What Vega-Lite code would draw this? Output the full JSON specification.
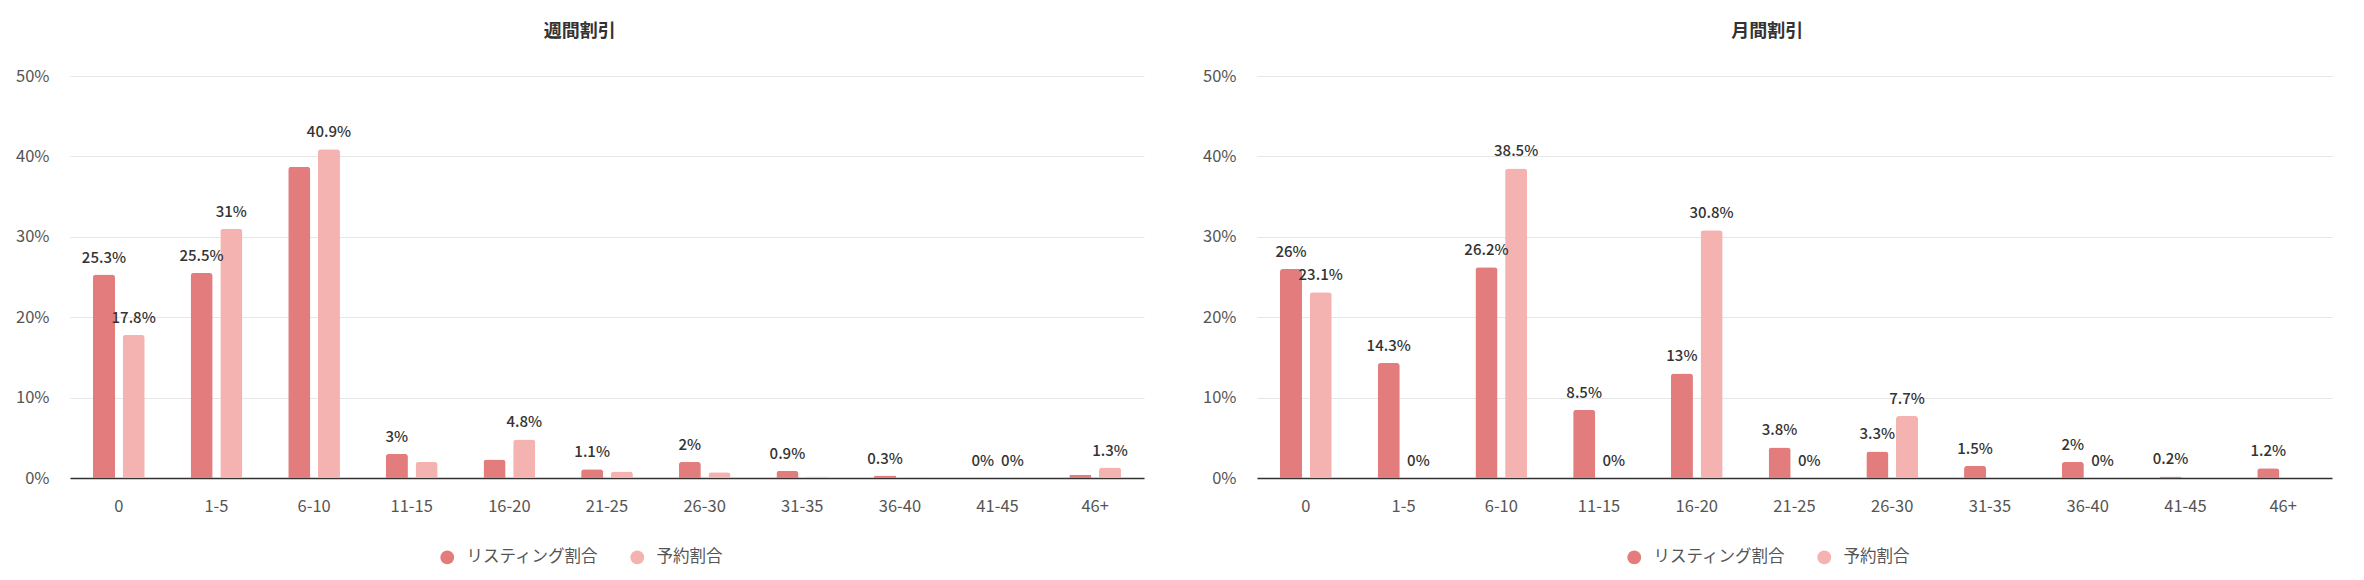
{
  "$schema": "https://vega.github.io/schema/vega-lite/v6.json",
  "background": "white",
  "padding": {"left": 15, "top": 23, "right": 29, "bottom": 0},
  "datasets": {
    "d": [
      {"chart": "週間割引", "bin": "0", "series": "リスティング割合", "value": 25.3},
      {"chart": "週間割引", "bin": "0", "series": "予約割合", "value": 17.8},
      {"chart": "週間割引", "bin": "1-5", "series": "リスティング割合", "value": 25.5},
      {"chart": "週間割引", "bin": "1-5", "series": "予約割合", "value": 31},
      {"chart": "週間割引", "bin": "6-10", "series": "リスティング割合", "value": 38.7},
      {"chart": "週間割引", "bin": "6-10", "series": "予約割合", "value": 40.9},
      {"chart": "週間割引", "bin": "11-15", "series": "リスティング割合", "value": 3},
      {"chart": "週間割引", "bin": "11-15", "series": "予約割合", "value": 2},
      {"chart": "週間割引", "bin": "16-20", "series": "リスティング割合", "value": 2.3},
      {"chart": "週間割引", "bin": "16-20", "series": "予約割合", "value": 4.8},
      {"chart": "週間割引", "bin": "21-25", "series": "リスティング割合", "value": 1.1},
      {"chart": "週間割引", "bin": "21-25", "series": "予約割合", "value": 0.8},
      {"chart": "週間割引", "bin": "26-30", "series": "リスティング割合", "value": 2},
      {"chart": "週間割引", "bin": "26-30", "series": "予約割合", "value": 0.7},
      {"chart": "週間割引", "bin": "31-35", "series": "リスティング割合", "value": 0.9},
      {"chart": "週間割引", "bin": "31-35", "series": "予約割合", "value": 0.2},
      {"chart": "週間割引", "bin": "36-40", "series": "リスティング割合", "value": 0.3},
      {"chart": "週間割引", "bin": "36-40", "series": "予約割合", "value": 0.1},
      {"chart": "週間割引", "bin": "41-45", "series": "リスティング割合", "value": 0},
      {"chart": "週間割引", "bin": "41-45", "series": "予約割合", "value": 0},
      {"chart": "週間割引", "bin": "46+", "series": "リスティング割合", "value": 0.4},
      {"chart": "週間割引", "bin": "46+", "series": "予約割合", "value": 1.3},
      {"chart": "月間割引", "bin": "0", "series": "リスティング割合", "value": 26},
      {"chart": "月間割引", "bin": "0", "series": "予約割合", "value": 23.1},
      {"chart": "月間割引", "bin": "1-5", "series": "リスティング割合", "value": 14.3},
      {"chart": "月間割引", "bin": "1-5", "series": "予約割合", "value": 0},
      {"chart": "月間割引", "bin": "6-10", "series": "リスティング割合", "value": 26.2},
      {"chart": "月間割引", "bin": "6-10", "series": "予約割合", "value": 38.5},
      {"chart": "月間割引", "bin": "11-15", "series": "リスティング割合", "value": 8.5},
      {"chart": "月間割引", "bin": "11-15", "series": "予約割合", "value": 0},
      {"chart": "月間割引", "bin": "16-20", "series": "リスティング割合", "value": 13},
      {"chart": "月間割引", "bin": "16-20", "series": "予約割合", "value": 30.8},
      {"chart": "月間割引", "bin": "21-25", "series": "リスティング割合", "value": 3.8},
      {"chart": "月間割引", "bin": "21-25", "series": "予約割合", "value": 0},
      {"chart": "月間割引", "bin": "26-30", "series": "リスティング割合", "value": 3.3},
      {"chart": "月間割引", "bin": "26-30", "series": "予約割合", "value": 7.7},
      {"chart": "月間割引", "bin": "31-35", "series": "リスティング割合", "value": 1.5},
      {"chart": "月間割引", "bin": "31-35", "series": "予約割合", "value": 0},
      {"chart": "月間割引", "bin": "36-40", "series": "リスティング割合", "value": 2},
      {"chart": "月間割引", "bin": "36-40", "series": "予約割合", "value": 0},
      {"chart": "月間割引", "bin": "41-45", "series": "リスティング割合", "value": 0.2},
      {"chart": "月間割引", "bin": "41-45", "series": "予約割合", "value": 0},
      {"chart": "月間割引", "bin": "46+", "series": "リスティング割合", "value": 1.2},
      {"chart": "月間割引", "bin": "46+", "series": "予約割合", "value": 0}
    ]
  },
  "data": {"name": "d"},
  "spacing": 58,
  "resolve": {"scale": {"color": "independent"}, "legend": {"color": "independent"}},
  "hconcat": [
    {
      "title": {"text": "週間割引"},
      "width": 1074,
      "height": 402,
      "transform": [
        {"filter": "datum.chart === '週間割引'"},
        {"calculate": "datum.value + '%'", "as": "label"}
      ],
      "encoding": {
        "x": {"field": "bin", "type": "nominal", "sort": ["0","1-5","6-10","11-15","16-20","21-25","26-30","31-35","36-40","41-45","46+"], "scale": {"paddingInner": 0.47, "paddingOuter": 0.235}, "axis": {"title": null}},
        "xOffset": {"field": "series", "type": "nominal", "sort": ["リスティング割合", "予約割合"], "scale": {"paddingInner": 0.257, "paddingOuter": 0}},
        "y": {"field": "value", "type": "quantitative", "scale": {"domain": [0, 50]}, "axis": {"title": null, "values": [0,10,20,30,40,50], "labelExpr": "datum.value + '%'"}}
      },
      "layer": [
        {
          "mark": {"type": "bar", "cornerRadiusTopLeft": 3, "cornerRadiusTopRight": 3},
          "encoding": {
            "color": {"field": "series", "type": "nominal", "sort": ["リスティング割合", "予約割合"], "scale": {"domain": ["リスティング割合", "予約割合"], "range": ["#E37D7D", "#F4B2B0"]},
              "legend": {"title": null, "orient": "none", "direction": "horizontal", "legendX": 369, "legendY": 473}}
          }
        },
        {
          "transform": [{"filter": "indexof(['6-10|リスティング割合','11-15|予約割合','16-20|リスティング割合','21-25|予約割合','26-30|予約割合','31-35|予約割合','36-40|予約割合','46+|リスティング割合'], datum.bin + '|' + datum.series) < 0"}],
          "mark": {"type": "text", "align": "center", "baseline": "alphabetic", "dy": -12, "fontSize": 15, "fontWeight": 500, "color": "#333333", "font": "Noto Sans CJK JP"},
          "encoding": {"text": {"field": "label", "type": "nominal"}}
        }
      ]
    },
    {
      "title": {"text": "月間割引"},
      "width": 1075,
      "height": 402,
      "transform": [
        {"filter": "datum.chart === '月間割引'"},
        {"calculate": "datum.value + '%'", "as": "label"}
      ],
      "encoding": {
        "x": {"field": "bin", "type": "nominal", "sort": ["0","1-5","6-10","11-15","16-20","21-25","26-30","31-35","36-40","41-45","46+"], "scale": {"paddingInner": 0.47, "paddingOuter": 0.235}, "axis": {"title": null}},
        "xOffset": {"field": "series", "type": "nominal", "sort": ["リスティング割合", "予約割合"], "scale": {"paddingInner": 0.257, "paddingOuter": 0}},
        "y": {"field": "value", "type": "quantitative", "scale": {"domain": [0, 50]}, "axis": {"title": null, "values": [0,10,20,30,40,50], "labelExpr": "datum.value + '%'"}}
      },
      "layer": [
        {
          "mark": {"type": "bar", "cornerRadiusTopLeft": 3, "cornerRadiusTopRight": 3},
          "encoding": {
            "color": {"field": "series", "type": "nominal", "sort": ["リスティング割合", "予約割合"], "scale": {"domain": ["リスティング割合", "予約割合"], "range": ["#E37D7D", "#F4B2B0"]},
              "legend": {"title": null, "orient": "none", "direction": "horizontal", "legendX": 369, "legendY": 473}}
          }
        },
        {
          "transform": [{"filter": "indexof(['31-35|予約割合','41-45|予約割合','46+|予約割合'], datum.bin + '|' + datum.series) < 0"}],
          "mark": {"type": "text", "align": "center", "baseline": "alphabetic", "dy": -12, "fontSize": 15, "fontWeight": 500, "color": "#333333", "font": "Noto Sans CJK JP"},
          "encoding": {"text": {"field": "label", "type": "nominal"}}
        }
      ]
    }
  ],
  "config": {
    "font": "Noto Sans CJK JP",
    "view": {"stroke": null},
    "title": {"fontSize": 18, "fontWeight": "bold", "color": "#333333", "anchor": "middle", "frame": "bounds", "offset": 27, "font": "Noto Sans CJK JP"},
    "axisX": {"domain": true, "domainColor": "#333333", "domainWidth": 1.5, "ticks": false, "labelAngle": 0, "labelFontSize": 16.5, "labelColor": "#555555", "labelPadding": 20, "grid": false, "labelFont": "Noto Sans CJK JP"},
    "axisY": {"domain": false, "ticks": false, "grid": true, "gridColor": "#e6e6e6", "gridWidth": 1, "labelFontSize": 16.5, "labelColor": "#555555", "labelPadding": 21, "labelFont": "Noto Sans CJK JP"},
    "legend": {"symbolType": "circle", "symbolSize": 190, "symbolStrokeWidth": 0, "labelFontSize": 16.5, "labelColor": "#555555", "labelOffset": 11, "columnPadding": 30, "labelFont": "Noto Sans CJK JP", "labelLimit": 400}
  }
}
